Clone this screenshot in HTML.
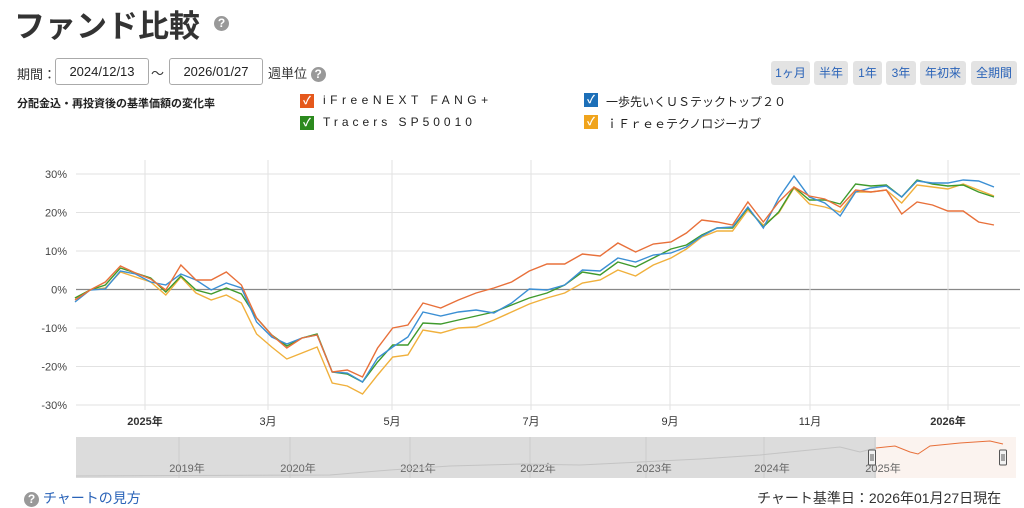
<!DOCTYPE html>
<html><head><meta charset="utf-8"><style>
body{margin:0;width:1024px;height:506px;background:#fff;font-family:"Liberation Sans","Noto Sans CJK JP",sans-serif;position:relative;overflow:hidden;color:#333}
.a{position:absolute;white-space:nowrap}
.q{display:inline-block;width:15px;height:15px;border-radius:50%;background:#999;color:#fff;font-size:12px;text-align:center;line-height:15px;font-weight:bold}
.inp{position:absolute;top:58px;height:25px;border:1px solid #aaa;border-radius:3px;font-size:13px;text-align:center;line-height:25px;color:#222}
.btn{position:absolute;top:61px;height:24px;background:#e3e3e3;border-radius:3px;font-size:12px;color:#2a63b8;text-align:center;line-height:24px}
.cb{position:absolute;width:14px;height:14px;color:#fff;font-size:11px;text-align:center;line-height:14px;font-weight:bold}
.lg{position:absolute;font-size:12px;letter-spacing:4px;color:#222}
</style></head><body>
<div class="a" style="left:14px;top:1px;font-size:31px;font-weight:bold;color:#333">ファンド比較</div>
<div class="a" style="left:214px;top:14px"><span class="q">?</span></div>
<div class="a" style="left:17px;top:64px;font-size:13px">期間：</div>
<div class="inp" style="left:55px;width:92px">2024/12/13</div>
<div class="a" style="left:151px;top:63px;font-size:13px">～</div>
<div class="inp" style="left:169px;width:92px">2026/01/27</div>
<div class="a" style="left:268px;top:63px;font-size:13px">週単位 <span class="q">?</span></div>
<div class="btn" style="left:771px;width:39px">1ヶ月</div>
<div class="btn" style="left:814px;width:34px">半年</div>
<div class="btn" style="left:853px;width:29px">1年</div>
<div class="btn" style="left:886px;width:30px">3年</div>
<div class="btn" style="left:920px;width:46px">年初来</div>
<div class="btn" style="left:971px;width:46px">全期間</div>
<div class="a" style="left:17px;top:95px;font-size:11px;font-weight:bold;color:#222">分配金込・再投資後の基準価額の変化率</div>
<div class="cb" style="left:300px;top:94px;background:#e5581c">✓</div><div class="lg" style="left:323px;top:93px;letter-spacing:4.5px">iFreeNEXT FANG+</div>
<div class="cb" style="left:300px;top:116px;background:#2c8a1e">✓</div><div class="lg" style="left:323px;top:115px">Tracers SP50010</div>
<div class="cb" style="left:584px;top:93px;background:#1c6fb8">✓</div><div class="lg" style="left:606px;top:93px;letter-spacing:0">一歩先いくＵＳテックトップ２０</div>
<div class="cb" style="left:584px;top:115px;background:#f0a41c">✓</div><div class="lg" style="left:606px;top:115px;letter-spacing:0">ｉＦｒｅｅテクノロジーカブ</div>
<svg class="a" style="left:0;top:0" width="1024" height="506" id="s"></svg>
<div class="a" style="left:24px;top:488px;font-size:14px;color:#2a63b8"><span class="q">?</span> チャートの見方</div>
<div class="a" style="left:757px;top:488px;font-size:14px;color:#333">チャート基準日：2026年01月27日現在</div>
<script>
var s=document.getElementById('s'),h='';
var yt=[30,20,10,0,-10,-20,-30];
yt.forEach(function(v){var y=289.5-v*3.85;h+='<line x1="76" x2="1020" y1="'+y+'" y2="'+y+'" stroke="'+(v==0?'#888':'#e2e2e2')+'" stroke-width="'+(v==0?1.2:1)+'"/>';h+='<text x="67" y="'+(y+4)+'" font-size="11" text-anchor="end" fill="#444">'+v+'%</text>';});
var xs=[[145,'2025年',1],[268,'3月'],[392,'5月'],[531,'7月'],[670,'9月'],[810,'11月'],[948,'2026年',1]];
xs.forEach(function(d){h+='<line x1="'+d[0]+'" x2="'+d[0]+'" y1="160" y2="410" stroke="#e2e2e2"/>';h+='<text x="'+d[0]+'" y="425" font-size="11" text-anchor="middle" fill="#333" '+(d[2]?'font-weight="bold"':'')+'>'+d[1]+'</text>';});
function X(i){return i<=23?75+15.13*i:(i<=37?423+(i-23)*248/14:671+15.38*(i-37));}
var S={
'#e8703a':[300,290,282,266,273,279,290,265,280,280,272,285,318,335,348,338,335,372,370,377,348,328,325,303,308,300,293,288,282,271,264,264,254,256,243,252,244,242,233,220,222,225,202,222,202,187,196,199,207,190,192,190,214,202,205,211,211,222,225],
'#3b8fd4':[302,290,289,271,274,282,285,274,280,290,283,288,322,337,344,338,335,372,373,382,358,347,337,312,316,312,310,313,303,289,290,285,270,271,258,262,255,253,247,236,228,227,207,228,198,176,197,203,216,192,188,186,197,181,183,183,180,181,187],
'#3f9a2c':[298,290,285,268,273,278,292,276,290,294,288,294,318,335,346,338,334,372,374,382,362,345,345,323,324,320,316,312,305,298,293,285,272,275,262,267,258,249,245,235,228,228,208,227,212,187,200,200,204,184,186,185,197,180,184,186,185,192,197],
'#f0b03c':[298,290,288,272,277,282,295,277,293,300,295,303,334,347,359,353,347,383,386,394,375,357,355,330,333,328,327,320,312,304,298,293,283,280,270,276,265,258,249,237,231,231,210,225,213,188,204,207,212,192,192,190,203,185,187,189,184,190,196]};
var order=['#f0b03c','#3f9a2c','#3b8fd4','#e8703a'];
order.forEach(function(c){var a=S[c],p='';a.forEach(function(y,i){p+=(i?'L':'M')+X(i).toFixed(1)+' '+y;});h+='<path d="'+p+'" fill="none" stroke="'+c+'" stroke-width="1.4"/>';});
h+='<rect x="76" y="437" width="800" height="41" fill="#dcdcdc"/><rect x="876" y="437" width="140" height="41" fill="#fbf3ef"/>';
[184,295,415,535,651,769,880].forEach(function(x,i){h+='<line x1="'+(x-5)+'" x2="'+(x-5)+'" y1="437" y2="478" stroke="#ccc"/><text x="'+(x+3)+'" y="472" font-size="11" text-anchor="middle" fill="#666">'+(2019+i)+'年</text>';});
h+='<path d="M76 476 L330 475 L390 470 L450 466 L520 464 L580 465 L640 462 L700 459 L760 455 L810 450 L840 447 L860 452 L876 448" fill="none" stroke="#c4c4c4" stroke-width="1"/>';
h+='<path d="M876 448 L895 446 L910 452 L918 454 L930 446 L960 443 L990 441 L1003 444" fill="none" stroke="#e8703a" stroke-width="1"/>';
[872,1003].forEach(function(x){h+='<rect x="'+(x-3.5)+'" y="450" width="7" height="15" rx="1" fill="#f2f2f2" stroke="#555"/><line x1="'+(x-1)+'" x2="'+(x-1)+'" y1="454" y2="461" stroke="#555"/><line x1="'+(x+1)+'" x2="'+(x+1)+'" y1="454" y2="461" stroke="#555"/>';});
s.innerHTML=h;
</script>
</body></html>
